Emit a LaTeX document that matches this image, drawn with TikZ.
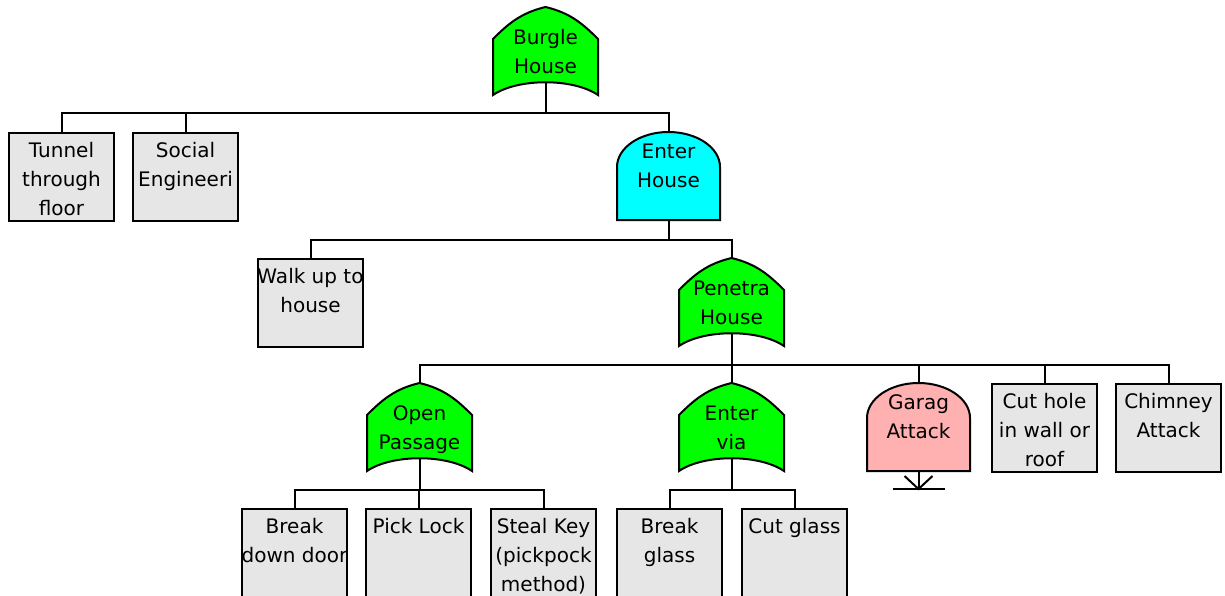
\documentclass[tikz,border=0pt]{standalone}
\usepackage{fontspec}
\setmainfont{DejaVu Sans}
\definecolor{gateGreen}{RGB}{0,255,0}
\definecolor{gateCyan}{RGB}{0,255,255}
\definecolor{gatePink}{RGB}{255,176,176}
\definecolor{leafGray}{RGB}{230,230,230}
\tikzset{
  gate/.style={draw=black,line width=2pt,line join=miter},
  wire/.style={draw=black,line width=2pt},
  lbl/.style={anchor=north,inner sep=0pt,align=center,font=\fontsize{20}{29}\selectfont},
  leaf/.style={draw=black,fill=leafGray,line width=2pt,anchor=north,inner sep=0pt,minimum width=105pt}
}
% OR gate: name, cx, peak y, colour, text
\newcommand\FTor[5]{%
  \path[gate,fill=#4] (#2-52.5,#3+88) -- (#2-52.5,#3+32)
    .. controls (#2-37.5,#3+17) and (#2-25,#3+6) .. (#2,#3)
    .. controls (#2+25,#3+6) and (#2+37.5,#3+17) .. (#2+52.5,#3+32)
    -- (#2+52.5,#3+88)
    .. controls (#2+27.5,#3+71) and (#2-27.5,#3+71) .. cycle;
  \node[lbl] (#1) at (#2,#3+17) {\strut #5};
  \coordinate (#1-t) at (#2,#3);
  \coordinate (#1-b) at (#2,#3+75);
}
% AND gate: name, cx, top y, colour, text
\newcommand\FTand[5]{%
  \path[gate,fill=#4] (#2-51.5,#3+88) -- (#2-51.5,#3+35)
    .. controls (#2-51.5,#3+15.7) and (#2-28.4,#3) .. (#2,#3)
    .. controls (#2+28.4,#3) and (#2+51.5,#3+15.7) .. (#2+51.5,#3+35)
    -- (#2+51.5,#3+88) -- cycle;
  \node[lbl] (#1) at (#2,#3+6) {\strut #5};
  \coordinate (#1-t) at (#2,#3);
  \coordinate (#1-b) at (#2,#3+88);
}
% leaf box: [height] name, cx, top y, text
\newcommand\FTbox[5][88]{%
  \node[leaf,minimum height=#1pt] (#2) at (#3,#4) {};
  \node[lbl] (#2-x) at (#3,#4+5) {\strut #5};
}
\begin{document}
\begin{tikzpicture}[x=1pt,y=-1pt]
\useasboundingbox[fill=white] (0,0) rectangle (1225,596);

% gates
\FTor{burgle}{545.5}{7}{gateGreen}{Burgle\\House}
\FTand{enterh}{668.5}{132}{gateCyan}{Enter\\House}
\FTor{penetra}{731.5}{258}{gateGreen}{Penetra\\House}
\FTor{open}{419.5}{383}{gateGreen}{Open\\Passage}
\FTor{via}{731.5}{383}{gateGreen}{Enter\\via}
\FTand{garag}{918.5}{383}{gatePink}{Garag\\Attack}

% leaves
\FTbox{tunnel}{61.5}{132}{Tunnel\\through\\floor}
\FTbox{social}{185.5}{132}{Social\\Engineeri}
\FTbox{walk}{310.5}{258}{Walk up to\\house}
\FTbox{cuthole}{1044.5}{383}{Cut hole\\in wall or\\roof}
\FTbox{chimney}{1168.5}{383}{Chimney\\Attack}
\FTbox[100]{breakd}{294.5}{508}{Break\\down door}
\FTbox[100]{pick}{418.5}{508}{Pick Lock}
\FTbox[100]{steal}{543.5}{508}{Steal Key\\(pickpock\\method)}
\FTbox[100]{bglass}{669.5}{508}{Break\\glass}
\FTbox[100]{cglass}{794.5}{508}{Cut glass}

% connectors
\draw[wire] (burgle-b) -- ++(0,31) -| (tunnel.north);
\draw[wire] (burgle-b) -- ++(0,31) -| (social.north);
\draw[wire] (burgle-b) -- ++(0,31) -| (enterh-t);
\draw[wire] (enterh-b) -- ++(0,20) -| (walk.north);
\draw[wire] (enterh-b) -- ++(0,20) -| (penetra-t);
\draw[wire] (penetra-b) -- ++(0,32) -| (open-t);
\draw[wire] (penetra-b) -- ++(0,32) -| (via-t);
\draw[wire] (penetra-b) -- ++(0,32) -| (garag-t);
\draw[wire] (penetra-b) -- ++(0,32) -| (cuthole.north);
\draw[wire] (penetra-b) -- ++(0,32) -| (chimney.north);
\draw[wire] (open-b) -- ++(0,32) -| (breakd.north);
\draw[wire] (open-b) -- ++(0,32) -| (pick.north);
\draw[wire] (open-b) -- ++(0,32) -| (steal.north);
\draw[wire] (via-b) -- ++(0,32) -| (bglass.north);
\draw[wire] (via-b) -- ++(0,32) -| (cglass.north);

% transfer symbol under Garag Attack
\coordinate (garag-s) at (918.5,489);
\draw[wire] (garag-b) -- (garag-s);
\draw[wire] ([xshift=-26pt]garag-s) -- ([xshift=26pt]garag-s);
\draw[wire] ([shift={(-14,-13)}]garag-s) -- (garag-s) -- ([shift={(14,-13)}]garag-s);
\end{tikzpicture}
\end{document}
